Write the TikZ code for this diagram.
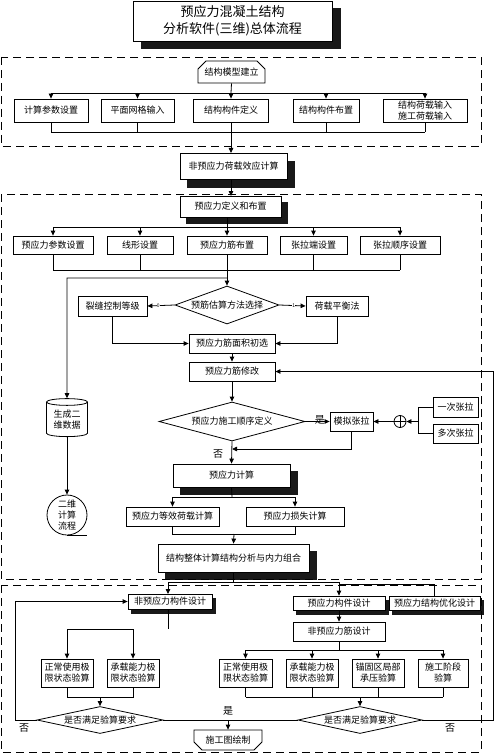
\documentclass[tikz,border=0pt]{standalone}
\usepackage{fontspec}
\setmainfont{Noto Sans CJK SC}
\usetikzlibrary{shapes.geometric, shapes.misc, arrows.meta}

\begin{document}
\begin{tikzpicture}[x=1pt, y=-1pt, line width=0.8pt,
	every node/.style = {font=\fontsize{9}{11}\selectfont, align=center, inner sep=0pt},
	box/.style = {rectangle, draw=black, fill=white},
	boxshadow/.style = {rectangle, fill=black!90, draw=black!90},
	decision/.style = {diamond, draw=black, fill=white},
	dashframe/.style = {dash pattern=on 8pt off 5pt, line width=0.9pt},
	flow/.style = {-{Triangle[length=5pt, width=4.5pt]}},
	answer/.style = {font=\fontsize{10}{12}\selectfont}]
	\useasboundingbox (0,0) rectangle (495,754);

	% shadows of the boxes: centre x, centre y, width, height
	\foreach \cx/\cy/\w/\h [count=\i] in {240.5/28/199/40, 240.5/174/107/26, 236.5/212.5/101/21, 238.5/482.5/117/23,
		240.5/565/151/28, 173/605.5/84/15, 342/607/92/14, 437.5/607/91/14}
		\node (Shadow\i) [boxshadow, minimum width=\w, minimum height=\h] at (\cx,\cy) {};

	% dashed groups
	\draw [dashframe] (1,57) rectangle (481,146);
	\draw [dashframe] (1,194) rectangle (481,579);
	\draw [dashframe] (1,585) rectangle (481,752);

	% title and modelling
	\node (Title) [box, minimum width=199, minimum height=40, font=\fontsize{13}{17}\selectfont] at (232.5,21) {预应力混凝土结构\\分析软件(三维)总体流程};
	\node (Model) [chamfered rectangle, chamfered rectangle corners={north west, north east}, chamfered rectangle xsep=4pt, chamfered rectangle ysep=4pt, draw=black, fill=white, minimum width=67, minimum height=22] at (231.5,72) {结构模型建立};
	\node (CalcParam) [box, minimum width=74, minimum height=23] at (51,110.5) {计算参数设置};
	\node (Grid) [box, minimum width=73, minimum height=23] at (137.5,110.5) {平面网格输入};
	\node (MemberDef) [box, minimum width=75, minimum height=23] at (231,110.5) {结构构件定义};
	\node (MemberLay) [box, minimum width=66, minimum height=23] at (326,110.5) {结构构件布置};
	\node (LoadIn) [box, minimum width=84, minimum height=23] at (425,110.5) {结构荷载输入\\施工荷载输入};
	\node (NonPreLoad) [box, minimum width=107, minimum height=26] at (233.5,166) {非预应力荷载效应计算};

	\draw (Model.south) -- (231,93);
	\draw (51,93) -- (425,93);
	\foreach \n/\x in {CalcParam/51, Grid/137.5, MemberDef/231, MemberLay/326, LoadIn/425}
		\draw [flow] (\x,93) -- (\n.north);
	\foreach \n/\x in {CalcParam/51, Grid/137.5, MemberDef/231, MemberLay/326, LoadIn/425}
		\draw (\n.south) -- (\x,132);
	\draw (51,132) -- (425,132);
	\draw [flow, thick] (231,132) -- (231,153);

	% prestress definition
	\node (PreDef) [box, minimum width=101, minimum height=21] at (230.5,206.5) {预应力定义和布置};
	\draw [flow, thick] (231,179) -- (231,196);
	\node (PreParam) [box, minimum width=80, minimum height=18] at (53,245) {预应力参数设置};
	\node (Profile) [box, minimum width=66, minimum height=18] at (140,245) {线形设置};
	\node (TendonLay) [box, minimum width=80, minimum height=18] at (227,245) {预应力筋布置};
	\node (JackEnd) [box, minimum width=67, minimum height=18] at (313.5,245) {张拉端设置};
	\node (JackOrder) [box, minimum width=80, minimum height=18] at (400,245) {张拉顺序设置};
	\draw [thick] (227,217) -- (227,227);
	\draw [thick] (53,227) -- (400,227);
	\foreach \n/\x in {PreParam/53, Profile/140, TendonLay/227, JackEnd/313.5, JackOrder/400}
		\draw [flow] (\x,227) -- (\n.north);
	\foreach \n/\x in {PreParam/53, Profile/140, TendonLay/227, JackEnd/313.5, JackOrder/400}
		\draw (\n.south) -- (\x,270);
	\draw (53,270) -- (400,270);

	% tendon estimate
	\node (Estimate) [decision, aspect=2.7, minimum width=104, minimum height=38] at (227,305) {预筋估算方法选择};
	\node (Crack) [box, minimum width=69, minimum height=20] at (112.5,306) {裂缝控制等级};
	\node (Balance) [box, minimum width=62, minimum height=20] at (337,306) {荷载平衡法};
	\node (AreaInit) [box, minimum width=86, minimum height=19] at (232,343.5) {预应力筋面积初选};
	\node (Modify) [box, minimum width=86, minimum height=19] at (232,371.5) {预应力筋修改};
	\draw [flow, thick] (227,270) -- (Estimate.north);
	\draw [flow] (Estimate.west) -- node [fill=white, font=\fontsize{5}{5}\selectfont, pos=0.6] {0} (Crack.east);
	\draw [flow] (Estimate.east) -- node [fill=white, font=\fontsize{5}{5}\selectfont, pos=0.55] {1} (Balance.west);
	\draw [flow] (Crack.south) |- (AreaInit.west);
	\draw [flow] (Balance.south) |- (AreaInit.east);
	\draw [flow, thick] (AreaInit.south) -- (Modify.north);

	% two-dimensional branch
	\node (Data2D) [cylinder, shape border rotate=90, aspect=0.25, draw=black, fill=white, minimum width=41, minimum height=38] at (67,419.5) {生成二\\维数据};
	\node (Flow2D) [circle, draw=black, fill=white, minimum size=40] at (67,515) {二维\\计算\\流程};
	\draw [flow, thick] (227,278) -- (67,278) -- (Data2D.north);
	\draw [flow, thick] (Data2D.south) -- (Flow2D.north);
	\draw (Flow2D.south) -- ++(20,0);

	% construction order
	\node (Order) [decision, aspect=3.7, minimum width=146, minimum height=39] at (232,421.5) {预应力施工顺序定义};
	\node (SimJack) [box, minimum width=43, minimum height=19] at (351.5,421.5) {模拟张拉};
	\node (Sum) [circle, draw=black, fill=white, minimum size=12] at (400,421.5) {};
	\draw (Sum.north) -- (Sum.south) (Sum.west) -- (Sum.east);
	\node (JackOnce) [box, minimum width=45, minimum height=20] at (455.5,407) {一次张拉};
	\node (JackMulti) [box, minimum width=45, minimum height=19] at (455.5,433.5) {多次张拉};
	\draw [flow, thick] (Modify.south) -- (Order.north);
	\draw [flow] (Order.east) -- node [answer, above, pos=0.6, yshift=-3pt] {是} (SimJack.west);
	\draw (JackOnce.west) -- (418,407) -- (418,433.5) -- (JackMulti.west);
	\draw [flow, thick] (418,421.5) -- (Sum.east);
	\draw [flow, thick] (Sum.west) -- (SimJack.east);
	\draw [flow] (SimJack.south) |- (232,449);
	\node [answer] at (218,454) {否};

	% prestress computation
	\node (PreCalc) [box, minimum width=117, minimum height=23] at (231.5,475.5) {预应力计算};
	\node (EquivLoad) [box, minimum width=93, minimum height=19] at (172.5,516.5) {预应力等效荷载计算};
	\node (Loss) [box, minimum width=98, minimum height=19] at (295,516.5) {预应力损失计算};
	\node (Whole) [box, minimum width=151, minimum height=28] at (233.5,558) {结构整体计算结构分析与内力组合};
	\draw [flow, thick] (Order.south) -- (PreCalc.north);
	\draw (PreCalc.south) -- (232,497);
	\draw (172.5,497) -- (295,497);
	\draw [flow] (172.5,497) -- (EquivLoad.north);
	\draw [flow] (295,497) -- (Loss.north);
	\draw (EquivLoad.south) -- (172.5,534) -- (295,534) -- (Loss.south);
	\draw [flow, thick] (234,534) -- (Whole.north);

	% member design
	\node (NonPreDesign) [box, minimum width=84, minimum height=15] at (170,601.5) {非预应力构件设计};
	\node (PreDesign) [box, minimum width=92, minimum height=14] at (339,603) {预应力构件设计};
	\node (Optimize) [box, minimum width=91, minimum height=14] at (434.5,603) {预应力结构优化设计};
	\node (Rebar) [box, minimum width=92, minimum height=19] at (339,631.5) {非预应力筋设计};
	\draw (233.5,572) -- (233.5,582);
	\draw (168,582) -- (339,582);
	\draw [flow] (168,582) -- (168,594);
	\draw [flow] (339,582) -- (PreDesign.north);
	\draw (339,584) -- (434.5,584) -- (Optimize.north);
	\draw [flow] (PreDesign.south) -- (Rebar.north);

	% checks without prestress
	\node (ServL) [box, minimum width=52, minimum height=28] at (67,673) {正常使用极\\限状态验算};
	\node (UltL) [box, minimum width=52, minimum height=28] at (133,673) {承载能力极\\限状态验算};
	\node (CheckL) [decision, aspect=4.7, minimum width=126, minimum height=27] at (100,720) {是否满足验算要求};
	\draw (168,609) -- (168,629);
	\draw (67,629) -- (133,629);
	\draw [flow] (67,629) -- (ServL.north);
	\draw [flow] (133,629) -- (UltL.north);
	\draw (ServL.south) -- (67,697) -- (133,697) -- (UltL.south);
	\draw [flow] (100,697) -- (CheckL.north);

	% checks with prestress
	\node (ServR) [box, minimum width=53, minimum height=28] at (245.5,673) {正常使用极\\限状态验算};
	\node (UltR) [box, minimum width=52, minimum height=28] at (312,673) {承载能力极\\限状态验算};
	\node (Anchor) [box, minimum width=52, minimum height=28] at (378,673) {锚固区局部\\承压验算};
	\node (Stage) [box, minimum width=50, minimum height=28] at (443,673) {施工阶段\\验算};
	\node (CheckR) [decision, aspect=4.7, minimum width=124, minimum height=27] at (360,720) {是否满足验算要求};
	\draw (Rebar.south) -- (339,650);
	\draw (245.5,650) -- (443,650);
	\foreach \n/\x in {ServR/245.5, UltR/312, Anchor/378, Stage/443}
		\draw [flow] (\x,650) -- (\n.north);
	\foreach \n/\x in {ServR/245.5, UltR/312, Anchor/378, Stage/443}
		\draw (\n.south) -- (\x,697);
	\draw (245.5,697) -- (443,697);
	\draw [flow] (360,697) -- (CheckR.north);

	% drawing and loops
	\node (Drawing) [chamfered rectangle, chamfered rectangle corners={south west, south east}, chamfered rectangle xsep=4pt, chamfered rectangle ysep=4pt, draw=black, fill=white, minimum width=68, minimum height=20] at (228,740) {施工图绘制};
	\draw (CheckL.east) -- (CheckR.west);
	\draw [flow] (228,720) -- (Drawing.north);
	\node [answer] at (228,711) {是};
	\draw [flow] (CheckL.west) -- (15,720) -- (15,601.5) -- (NonPreDesign.west);
	\node [answer] at (24,728) {否};
	\draw [flow] (CheckR.east) -- (493,720) -- (493,371.5) -- (Modify.east);
	\node [answer] at (450,728) {否};
\end{tikzpicture}
\end{document}
